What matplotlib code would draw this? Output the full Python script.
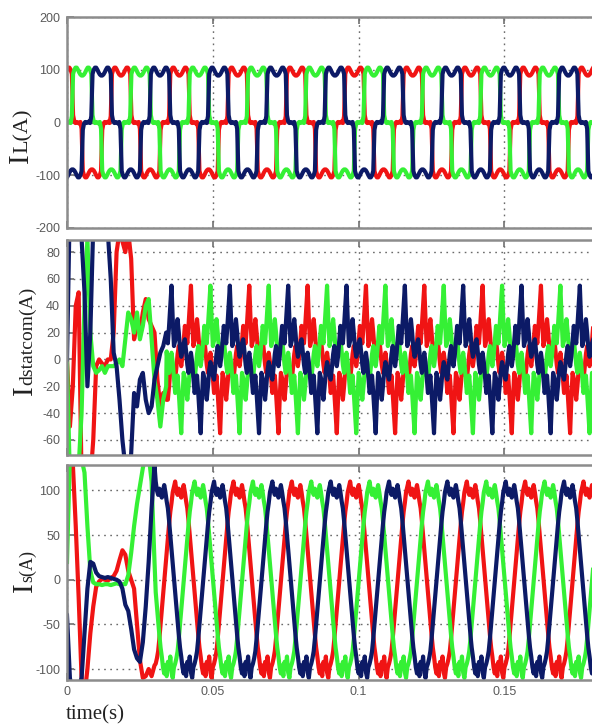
import numpy as np
import matplotlib.pyplot as plt


# ************************************************************
# Data
# ************************************************************

period = 0.02          # 50 Hz
n_cycle = 48           # samples per cycle in the steady-state tables
dt_start = 0.001       # step of the start-up tables
t_end = 0.18

# phase lag of each colour, in samples of one cycle
phase_lag = {"red": 0, "green": 16, "navy": 32}
colors = {"red": "#f01414", "green": "#35f035", "navy": "#0c1a66"}

# load current, phase a, one cycle from t = 0
il_cycle = [100, 104, 104, 100, 92, 14, 2, -1, 1, 0, -2, 1, -12,
            -92, -100, -104, -104, -100, -95, -91, -89, -89, -91, -95,
            -100, -104, -104, -100, -92, -14, -2, 1, -1, 0, 2, -1, 12,
            92, 100, 104, 104, 100, 95, 91, 89, 89, 91, 95]

# source current, phase a, one cycle
is_cycle = [106, 98, 88,
            80, 66, 50, 34, 18, 2, -14, -30, -46, -62, -76,
            -86, -98, -105, -96, -108, -92, -100, -86, -104, -110, -98,
            -94, -88,
            -80, -66, -50, -34, -18, -2, 14, 30, 46, 62, 76,
            86, 98, 104, 110, 100, 95, 102, 98, 92, 100]

# statcom current, phase a, one cycle
ic_cycle = [14, 25, 20, 12, 25, 40,
            55, 30, 10, 14, 22, 30, 20, 8, 2, 6, 12, 15, 6, -4, -10, -2,
            5, -2, -14, -25, -20, -12, -25, -40,
            -55, -30, -10, -14, -22, -30, -20, -8, -2, -6, -12, -15, -6,
            4, 10, 2, -5, 2]

# start-up of the source current, 1 ms steps
is_start = {
    "red": [140, 140, 130, 60, -20, -110, -130, -100, -60, -30,
            -8, -2, 1, 0, -1, 2, 4, 10, 22, 33,
            28, 10, 0, -10, -50, -90, -110, -108, -100, -108, -96],
    "green": [20, 140, 150, 150, 140, 135, 120, 60, 10, -3,
              -5, -5, -6, -5, -5, -6, -5, -4, -5, -5,
              -5, 5, 30, 60, 85, 105, 125, 140, 140, 110, 20],
    "navy": [-40, -110, -130, -130, -120, -110, -60, -10, 20, 18,
             8, 4, 3, 2, 3, 2, 1, 0, -2, -10,
             -28, -35, -55, -78, -88, -92, -70, -30, 20, 80, 128],
}

# start-up of the statcom current, 1 ms steps
ic_start = {
    "red": [0, -50, -20, 40, 50, -90, -90, -90, -90, -60,
            -5, 0, -3, -5, 0, 0, 20, 80, 95, 88,
            80, 95, 75, 15, 25, 20, 35, 45, 30, 25,
            20, -15, -35, -25, -30],
    "green": [0, -90, -90, -90, -80, -40, 40, 90, 20, -5,
              -10, -8, -5, -10, -5, -5, -5, -3, 0, -5,
              15, 35, 30, 20, 35, 15, 25, 40, 45, 15,
              -15, -30, -50, -30, -20],
    "navy": [0, 120, 120, 110, 100, 90, 50, -20, 20, 100,
             120, 120, 120, 110, 95, 60, 5, -5, -30, -60,
             -80, -90, -70, -25, -35, -15, -10, -30, -40, -35,
             -15, -5, 5, 10, 20],
}


# ************************************************************
# Build each trace
# ************************************************************

def phase_wave(cycle, lag, start=None):
    cycle = np.asarray(cycle, dtype=float)
    dt = period / n_cycle
    k = np.arange(int(round(t_end / dt)) + 2)
    t = k * dt
    y = cycle[(k - lag) % n_cycle]
    if start is None:
        return t, y
    t0 = np.arange(len(start)) * dt_start
    keep = t > t0[-1] + 1e-9
    return (np.concatenate([t0, t[keep]]),
            np.concatenate([np.asarray(start, float), y[keep]]))


# ************************************************************
# Figure
# ************************************************************

fig = plt.figure(figsize=(5.92, 7.24), dpi=100)

left = 67 / 592
width = 1 - left
boxes = [
    (left, 1 - 228 / 724, width, 211 / 724),
    (left, 1 - 455 / 724, width, 215 / 724),
    (left, 1 - 680 / 724, width, 215 / 724),
]
ylims = [(-200, 200), (-71.2, 89), (-112.3, 128.5)]
yticks = [
    [-200, -100, 0, 100, 200],
    [-60, -40, -20, 0, 20, 40, 60, 80],
    [-100, -50, 0, 50, 100],
]

panels = [
    (il_cycle, None),
    (ic_cycle, ic_start),
    (is_cycle, is_start),
]

tick_font = {"family": "Liberation Sans", "size": 9, "color": "#5a5a5a"}
axes = []

for i, (box, (cycle, start)) in enumerate(zip(boxes, panels)):
    ax = fig.add_axes(box)
    for name in ["red", "green", "navy"]:
        st = None if start is None else start[name]
        t, y = phase_wave(cycle, phase_lag[name], st)
        ax.plot(t, y, color=colors[name], linewidth=3.0,
                solid_joinstyle="round")

    ax.set_xlim(0, t_end)
    ax.set_ylim(*ylims[i])
    ax.set_xticks([0, 0.05, 0.1, 0.15])
    ax.set_yticks(yticks[i])
    ax.set_xticklabels(["0", "0.05", "0.1", "0.15"] if i == 2 else [])
    ax.set_yticklabels([str(v) for v in yticks[i]])
    for lab in ax.get_xticklabels() + ax.get_yticklabels():
        lab.set_fontfamily(tick_font["family"])
        lab.set_fontsize(tick_font["size"])
        lab.set_color(tick_font["color"])

    ax.grid(True, linestyle=(0, (1.2, 3.2)), color="#6a6a6a",
            linewidth=1.0)
    ax.tick_params(direction="in", top=True, right=False, length=5,
                   width=1.2, color="#707070", pad=5)
    ax.tick_params(axis="x", pad=4)
    for side in ["left", "top", "bottom"]:
        ax.spines[side].set_color("#8c8c8c")
        ax.spines[side].set_linewidth(1.8)
    ax.spines["right"].set_visible(False)
    axes.append(ax)

fig.text(66 / 592, 1 - 719 / 724, "time(s)", family="Liberation Serif",
         fontsize=15, ha="left", va="baseline", color="#222222")


# ************************************************************
# Y labels: big "I" followed by the rest
# ************************************************************

renderer = fig.canvas.get_renderer()


def side_label(x_px, y_px, rest, rest_size):
    x = x_px / 592
    y = 1 - y_px / 724
    big = fig.text(x, y, "I", rotation=90, rotation_mode="anchor",
                   ha="left", va="baseline", fontsize=21,
                   family="Liberation Serif", color="#222222")
    bb = big.get_window_extent(renderer)
    y2 = bb.y1 / fig.bbox.height
    fig.text(x, y2, rest, rotation=90, rotation_mode="anchor",
             ha="left", va="baseline", fontsize=rest_size,
             family="Liberation Serif", color="#222222")


side_label(28, 163, "L(A)", 16)
side_label(32, 395, "dstatcom(A)", 14)
side_label(32, 592, "s(A)", 13)

plt.savefig("out.png", dpi=100)
